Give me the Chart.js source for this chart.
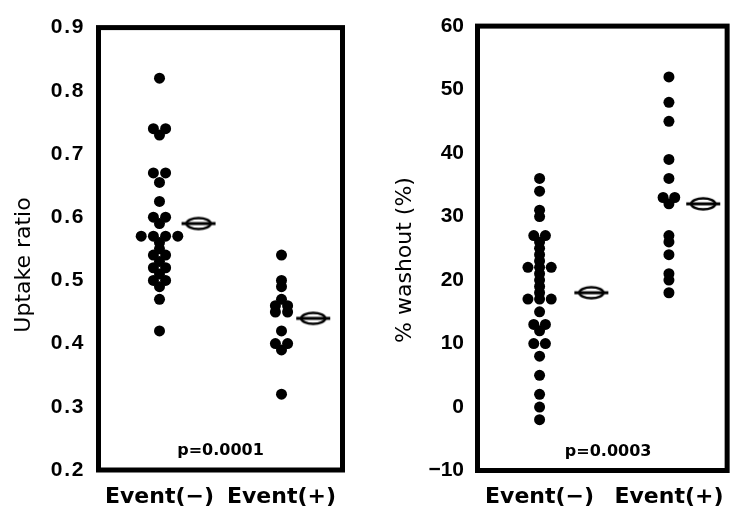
<!DOCTYPE html>
<html>
<head>
<meta charset="utf-8">
<script src="https://cdn.jsdelivr.net/npm/chart.js@4.4.1/dist/chart.umd.min.js"></script>
<style>
body{margin:0;background:#fff;width:740px;height:509px;position:relative;overflow:hidden}
canvas{position:absolute;top:0}
#uptake{left:0}
#washout{left:370px}
</style>
</head>
<body>
<canvas id="uptake" width="360" height="509"></canvas>
<canvas id="washout" width="370" height="509"></canvas>
<script>

// categories and values
let categories = ["Event(\u2212)", "Event(+)"];

let uptakeNeg = [0.82, 0.74, 0.74, 0.73, 0.67, 0.67, 0.655, 0.625, 0.60, 0.60, 0.59,
  0.57, 0.57, 0.57, 0.57, 0.56, 0.55, 0.54, 0.54, 0.53, 0.52, 0.52, 0.51, 0.50, 0.50, 0.49, 0.47, 0.42];
let uptakePos = [0.54, 0.50, 0.49, 0.47, 0.46, 0.46, 0.45, 0.45, 0.42, 0.40, 0.40, 0.39, 0.32];
let uptakeMean = [0.59, 0.44];

let washNeg = [36, 34, 31, 30, 27, 27, 26, 25, 24, 23, 22, 22, 22, 21, 20, 19, 18,
  17, 17, 17, 15, 13, 13, 12, 10, 10, 8, 5, 2, 0, -2];
let washPos = [52, 48, 45, 39, 36, 33, 33, 32, 27, 26, 24, 21, 20, 18];
let washMean = [18, 32];

let uptakeTicks = [0.2, 0.9, 0.1];
let washTicks = [-10, 60, 10];
let pLabels = ["p=0.0001", "p=0.0003"];


// equal values sit side by side
function spread(values, center, step){

let counts = {};
values.forEach(v => counts[v] = (counts[v] || 0) + 1);
let seen = {};

return values.map(v => {
  let n = counts[v];
  let i = seen[v] = (seen[v] === undefined ? 0 : seen[v] + 1);
  return {x: center + (i - (n - 1) / 2) * step, y: v};
});

}

// mean marker: small ellipse crossed by a bar
function meanMarker(){

let c = document.createElement("canvas");
c.width = 36;
c.height = 16;
let g = c.getContext("2d");
g.strokeStyle = "#000";
g.lineWidth = 2.5;
g.beginPath();
g.ellipse(18, 8, 12, 5.5, 0, 0, Math.PI * 2);
g.stroke();
g.lineWidth = 3;
g.beginPath();
g.moveTo(1, 8);
g.lineTo(35, 8);
g.stroke();
return c;

}

let marker = meanMarker();

let framePlugin = {
id: "frame",
beforeDatasetsDraw(chart){
  let a = chart.chartArea;
  let ctx = chart.ctx;
  ctx.save();
  ctx.strokeStyle = "#000";
  ctx.lineWidth = 5;
  ctx.strokeRect(a.left, a.top, a.right - a.left, a.bottom - a.top);
  ctx.restore();
}
};

// p value inside the frame, y axis title beside the ticks
let textPlugin = {
id: "texts",
afterDatasetsDraw(chart, args, opts){
  let a = chart.chartArea;
  let ctx = chart.ctx;
  ctx.save();
  ctx.fillStyle = "#000";
  ctx.font = "bold 16px 'DejaVu Sans'";
  ctx.textAlign = "center";
  ctx.textBaseline = "alphabetic";
  ctx.fillText(opts.p, chart.scales.x.getPixelForValue(opts.pX), a.bottom - 15);

  ctx.font = "22px 'DejaVu Sans'";
  ctx.textBaseline = "middle";
  ctx.translate(opts.titleX, opts.titleY);
  ctx.rotate(-Math.PI / 2);
  ctx.fillText(opts.title, 0, 0);
  ctx.restore();
}
};


function makeChart(id, cfg){

let dotStyle = {
  backgroundColor: "#000",
  borderWidth: 0,
  pointRadius: 5.5,
  pointHoverRadius: 5.5
};

return new Chart(document.getElementById(id), {

type: "scatter",

data: {
  datasets: [
    Object.assign({data: spread(cfg.neg, 1, cfg.step)}, dotStyle),
    Object.assign({data: spread(cfg.pos, 2, cfg.step)}, dotStyle),
    {
      data: cfg.mean.map((m, i) => ({x: i + 1 + cfg.meanShift[i], y: m})),
      pointStyle: marker,
      pointRadius: 10
    }
  ]
},

options: {
  responsive: false,
  animation: false,
  devicePixelRatio: 1,
  layout: {padding: cfg.padding},
  plugins: {
    legend: {display: false},
    tooltip: {enabled: false},
    texts: {p: cfg.p, pX: cfg.pX, title: cfg.title, titleX: cfg.titleX, titleY: cfg.titleY}
  },
  scales: {
    x: {
      type: "linear",
      min: cfg.xMin,
      max: cfg.xMax,
      grid: {display: false, drawTicks: false},
      border: {display: false},
      afterBuildTicks: s => { s.ticks = categories.map((c, i) => ({value: i + 1})); },
      afterFit: s => { s.height = cfg.xHeight; },
      ticks: {
        autoSkip: false,
        maxRotation: 0,
        padding: 14,
        color: "#000",
        font: {family: "'DejaVu Sans'", size: 22, weight: "bold"},
        callback: v => categories[v - 1]
      }
    },
    y: {
      min: cfg.ticks[0],
      max: cfg.ticks[1],
      grid: {display: false, drawTicks: false},
      border: {display: false},
      afterFit: s => { s.width = cfg.yWidth; },
      ticks: {
        stepSize: cfg.ticks[2],
        padding: cfg.tickPad,
        color: "#000",
        font: {family: "'Liberation Sans'", size: 21, weight: "bold"},
        callback: cfg.fmt
      }
    }
  }
},

plugins: [framePlugin, textPlugin]

});

}


makeChart("uptake", {
  neg: uptakeNeg, pos: uptakePos, mean: uptakeMean,
  step: 0.1, meanShift: [0.32, 0.26],
  ticks: uptakeTicks,
  fmt: v => v.toFixed(1).split("").join("\u200A"),
  title: "Uptake ratio", titleX: 24, titleY: 265,
  p: pLabels[0], pX: 1.5,
  xMin: 0.5, xMax: 2.5,
  padding: {top: 21, right: 17.5, bottom: 0, left: 0},
  yWidth: 98.5, xHeight: 39, tickPad: 15
});

makeChart("washout", {
  neg: washNeg, pos: washPos, mean: washMean,
  step: 0.09, meanShift: [0.40, 0.265],
  ticks: washTicks,
  fmt: v => v < 0 ? "\u2212" + Math.abs(v) : String(v),
  title: "% washout (%)", titleX: 35, titleY: 260,
  p: pLabels[1], pX: 1.53,
  xMin: 0.52, xMax: 2.45,
  padding: {top: 23, right: 3.5, bottom: 0, left: 0},
  yWidth: 107.5, xHeight: 38.5, tickPad: 13.5
});

</script>
</body>
</html>
